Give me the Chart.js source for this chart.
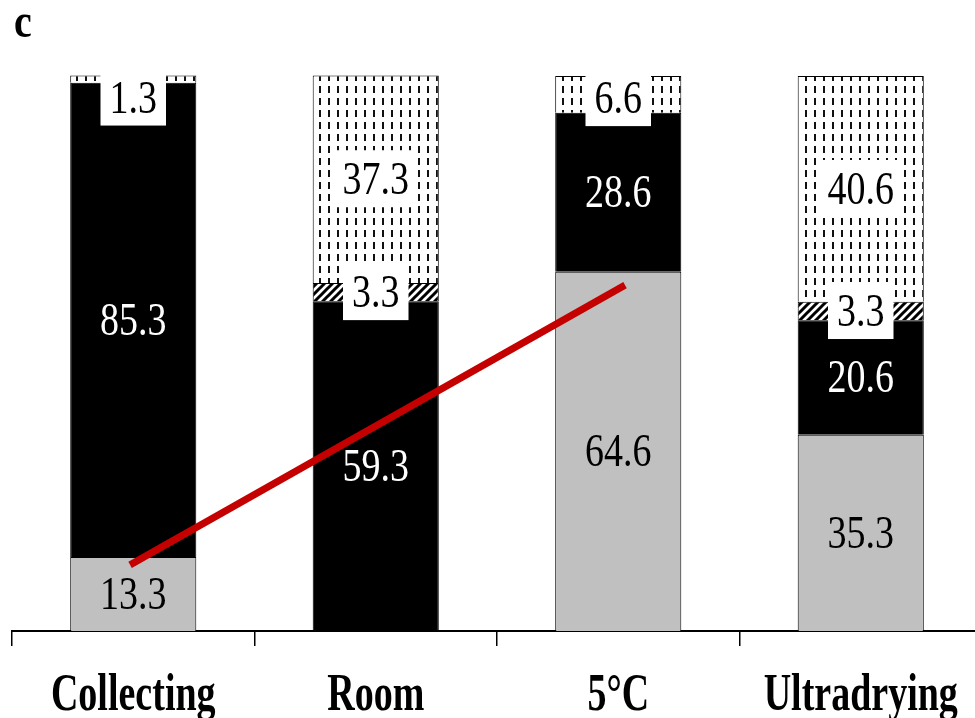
<!DOCTYPE html>
<html>
<head>
<meta charset="utf-8">
<script src="https://cdn.jsdelivr.net/npm/chart.js@4"></script>
<style>
  html, body { margin: 0; padding: 0; overflow: hidden; background: #fff; width: 975px; height: 718px; }
  #wrap { position: absolute; left: 0; top: 0; width: 990px; height: 718px; }
</style>
</head>
<body>
<div id="wrap"><canvas id="c" width="990" height="718"></canvas></div>
<script>
// Seed fate after each storage treatment (%)
const categories = ['Collecting', 'Room', '5°C', 'Ultradrying'];
const greyValues = [13.3, null, 64.6, 35.3];
const blackValues = [85.3, 59.3, 28.6, 20.6];
const hatchValues = [null, 3.3, null, 3.3];
const dottedValues = [1.3, 37.3, 6.6, 40.6];
// Red trend line: positions on the category index axis and value axis
const trendX = [-0.013, 2.028];
const trendY = [11.9, 62.2];
const panelLetter = 'c';

const SERIF = '"Liberation Serif", "Times New Roman", serif';

function makePattern(kind) {
  const t = document.createElement('canvas');
  const g = t.getContext('2d');
  if (kind === 'dots') {
    t.width = 9; t.height = 12;
    g.fillStyle = '#fff'; g.fillRect(0, 0, 9, 12);
    g.fillStyle = '#111'; g.fillRect(4, 2, 2, 7);
  } else {
    t.width = 8; t.height = 8;
    g.fillStyle = '#fff'; g.fillRect(0, 0, 8, 8);
    g.strokeStyle = '#000'; g.lineWidth = 3;
    g.beginPath();
    g.moveTo(-2, 10); g.lineTo(10, -2);
    g.moveTo(-6, 6); g.lineTo(6, -6);
    g.moveTo(2, 14); g.lineTo(14, 2);
    g.stroke();
  }
  return document.getElementById('c').getContext('2d').createPattern(t, 'repeat');
}

const dotPattern = makePattern('dots');
const hatchPattern = makePattern('hatch');

const barCommon = {
  borderColor: '#000',
  borderWidth: 1,
  barPercentage: 0.52,
  categoryPercentage: 1,
  grouped: false,
  xAxisID: 'x',
  yAxisID: 'y'
};

// label style per bar dataset: text colour and whether a white box sits behind it
const labelStyles = [
  { color: '#000', box: false },
  { color: '#fff', box: false },
  { color: '#000', box: true },
  { color: '#000', box: true }
];

const segmentLabels = {
  id: 'segmentLabels',
  afterDatasetsDraw(chart) {
    const ctx = chart.ctx;
    const yScale = chart.scales.y;
    const sets = [greyValues, blackValues, hatchValues, dottedValues];
    ctx.save();
    ctx.font = '38px ' + SERIF;
    ctx.textAlign = 'center';
    ctx.textBaseline = 'alphabetic';
    for (let d = 0; d < 4; d++) {
      const meta = chart.getDatasetMeta(d);
      meta.data.forEach((el, i) => {
        const v = sets[d][i];
        if (v === null || v === undefined) return;
        const total = sets.reduce((s, arr) => s + (arr[i] || 0), 0);
        const stackTop = yScale.getPixelForValue(total);
        let cy = (el.y + el.base) / 2;
        const text = v.toFixed(1);
        const st = labelStyles[d];
        if (st.box) {
          cy = Math.max(cy, stackTop + 22);
          const top = Math.max(cy - 29, stackTop - 1);
          const bottom = cy + 28;
          const w = ctx.measureText(text).width + 18;
          ctx.fillStyle = '#fff';
          ctx.fillRect(el.x - w / 2, top, w, bottom - top);
        }
        ctx.fillStyle = st.color;
        ctx.save();
        ctx.translate(el.x, cy + 15);
        ctx.scale(1, 1.22);
        ctx.fillText(text, 0, 0);
        ctx.restore();
      });
    }
    // category names under the axis
    const xScale = chart.scales.x;
    ctx.font = 'bold 38px ' + SERIF;
    ctx.fillStyle = '#000';
    categories.forEach((c, i) => {
      ctx.save();
      ctx.translate(xScale.getPixelForValue(i), 710);
      ctx.scale(1, 1.38);
      ctx.fillText(c, 0, 0);
      ctx.restore();
    });
    // panel letter
    ctx.font = 'bold 40px ' + SERIF;
    ctx.textAlign = 'left';
    ctx.save();
    ctx.translate(14, 37);
    ctx.scale(1, 1.2);
    ctx.fillText(panelLetter, 0, 0);
    ctx.restore();
    ctx.restore();
  }
};

new Chart(document.getElementById('c'), {
  type: 'bar',
  data: {
    labels: categories,
    datasets: [
      Object.assign({ label: 'grey', data: greyValues, backgroundColor: '#c0c0c0' }, barCommon),
      Object.assign({ label: 'black', data: blackValues, backgroundColor: '#000' }, barCommon),
      Object.assign({ label: 'hatch', data: hatchValues, backgroundColor: hatchPattern }, barCommon),
      Object.assign({ label: 'dotted', data: dottedValues, backgroundColor: dotPattern }, barCommon),
      {
        type: 'line',
        label: 'trend',
        data: trendX.map((x, i) => ({ x: x, y: trendY[i] })),
        xAxisID: 'xl',
        yAxisID: 'y',
        borderColor: '#c40000',
        borderWidth: 7,
        borderCapStyle: 'butt',
        pointRadius: 0,
        fill: false,
        order: -1
      }
    ]
  },
  options: {
    responsive: false,
    animation: false,
    devicePixelRatio: 1,
    layout: { padding: { left: 12, right: 8, top: 75, bottom: 0 } },
    plugins: { legend: { display: false }, tooltip: { enabled: false } },
    scales: {
      x: {
        type: 'category',
        stacked: true,
        offset: true,
        grid: { display: true, offset: true, drawOnChartArea: false, drawTicks: true, tickLength: 15, color: '#000', lineWidth: 1.5 },
        border: { display: true, color: '#000', width: 2 },
        ticks: { display: false },
        afterFit(s) { s.height = 87; }
      },
      xl: { type: 'linear', display: false, offset: false, min: -0.5, max: 3.5 },
      y: { stacked: true, display: false, min: 0, max: 100 }
    }
  },
  plugins: [segmentLabels]
});
</script>
</body>
</html>
